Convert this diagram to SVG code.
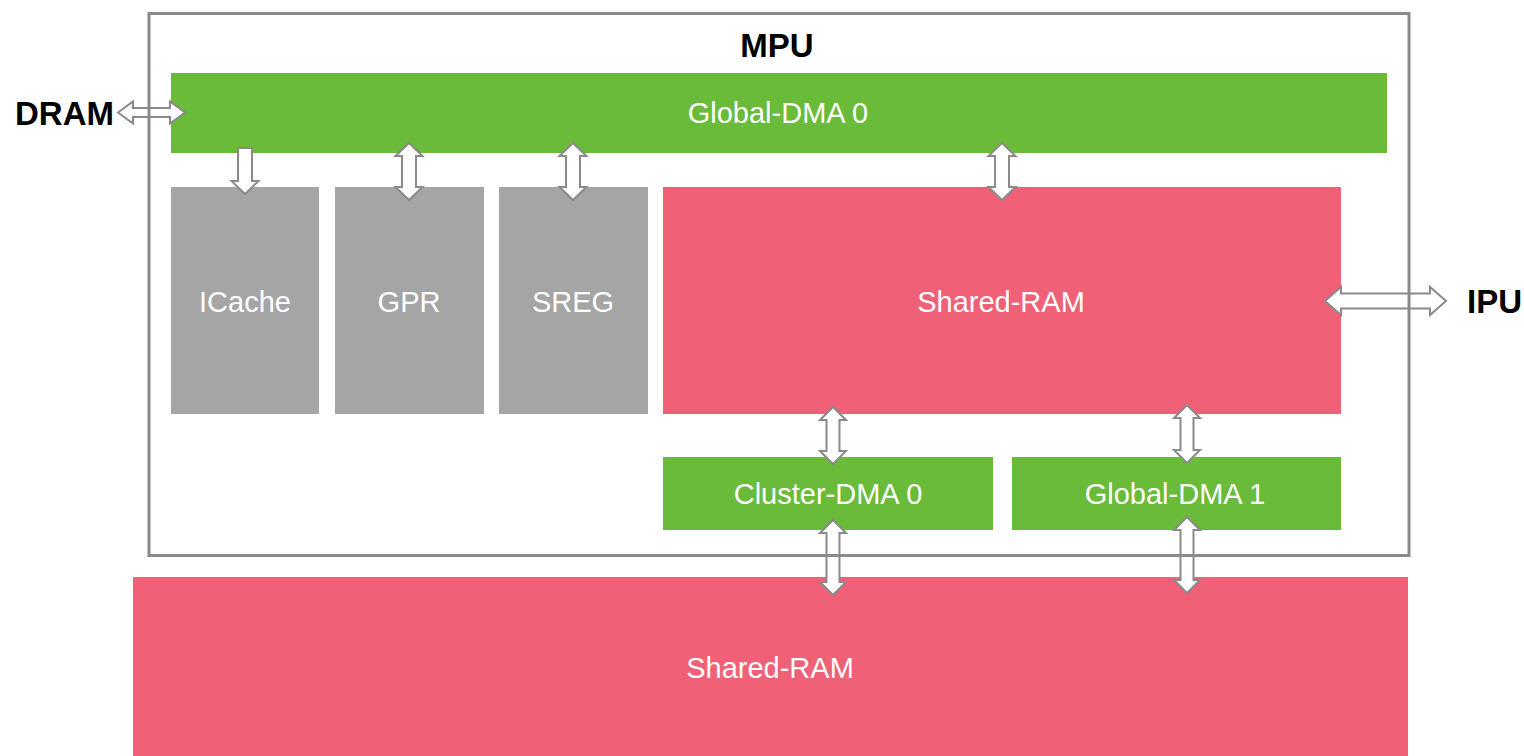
<svg xmlns="http://www.w3.org/2000/svg" width="1524" height="756" viewBox="0 0 1524 756">
  <style>
    .dma { fill: #6abb3a; }
    .ram { fill: #f06077; }
    .reg { fill: #a5a5a5; }
    .lbl { font-family: "Liberation Sans", Arial, Helvetica, sans-serif; font-size: 29px; fill: #ffffff; text-anchor: middle; dominant-baseline: central; }
    .ext { font-family: "Liberation Sans", Arial, Helvetica, sans-serif; font-size: 33px; font-weight: bold; fill: #000000; dominant-baseline: central; }
    .arrow { fill: #ffffff; stroke: #8a8a8a; stroke-width: 2; stroke-linejoin: miter; }
    .frame { fill: none; stroke: #8a8a8a; stroke-width: 3; }
  </style>
  <rect width="1524" height="756" fill="#ffffff"/>

  <g id="shared-ram-ext">
    <rect class="ram" x="133" y="577" width="1275" height="179"/>
    <text class="lbl" x="770" y="668">Shared-RAM</text>
  </g>

  <g id="global-dma-0">
    <rect class="dma" x="171" y="73" width="1216" height="80"/>
    <text class="lbl" x="778" y="113">Global-DMA 0</text>
  </g>
  <g id="icache">
    <rect class="reg" x="171" y="187" width="148" height="227"/>
    <text class="lbl" x="245" y="302">ICache</text>
  </g>
  <g id="gpr">
    <rect class="reg" x="335" y="187" width="149" height="227"/>
    <text class="lbl" x="409" y="302">GPR</text>
  </g>
  <g id="sreg">
    <rect class="reg" x="499" y="187" width="149" height="227"/>
    <text class="lbl" x="573" y="302">SREG</text>
  </g>
  <g id="shared-ram">
    <rect class="ram" x="663" y="187" width="678" height="227"/>
    <text class="lbl" x="1001" y="302">Shared-RAM</text>
  </g>
  <g id="cluster-dma-0">
    <rect class="dma" x="663" y="457" width="330" height="73"/>
    <text class="lbl" x="828" y="494">Cluster-DMA 0</text>
  </g>
  <g id="global-dma-1">
    <rect class="dma" x="1012" y="457" width="329" height="73"/>
    <text class="lbl" x="1175" y="494">Global-DMA 1</text>
  </g>

  <g id="connectors">
    <!-- DRAM <-> Global-DMA 0 -->
    <polygon class="arrow" points="118,112.5 133,101.5 133,108 170,108 170,101.5 185,112.5 170,123.5 170,117 133,117 133,123.5"/>
    <!-- Global-DMA 0 -> ICache -->
    <polygon class="arrow" points="238,148 252,148 252,181 258.5,181 245,194 231.5,181 238,181"/>
    <!-- Global-DMA 0 <-> GPR -->
    <polygon class="arrow" points="409,143 422.5,156 416,156 416,187 422.5,187 409,200 395.5,187 402,187 402,156 395.5,156"/>
    <!-- Global-DMA 0 <-> SREG -->
    <polygon class="arrow" points="573,143 586.5,156 580,156 580,187 586.5,187 573,200 559.5,187 566,187 566,156 559.5,156"/>
    <!-- Global-DMA 0 <-> Shared-RAM -->
    <polygon class="arrow" points="1002,143 1015.5,156 1009,156 1009,187 1015.5,187 1002,200 988.5,187 995,187 995,156 988.5,156"/>
    <!-- Shared-RAM <-> IPU -->
    <polygon class="arrow" points="1325,301 1341,287 1341,293.5 1430,293.5 1430,287 1446,301 1430,315 1430,308.5 1341,308.5 1341,315"/>
    <!-- Shared-RAM <-> Cluster-DMA 0 -->
    <polygon class="arrow" points="833,407 846,420 839.5,420 839.5,451 846,451 833,464 820,451 826.5,451 826.5,420 820,420"/>
    <!-- Shared-RAM <-> Global-DMA 1 -->
    <polygon class="arrow" points="1187,405 1200,418 1193.5,418 1193.5,450 1200,450 1187,463 1174,450 1180.5,450 1180.5,418 1174,418"/>
    <!-- Cluster-DMA 0 <-> external Shared-RAM -->
    <polygon class="arrow" points="833,520 846,533 839.5,533 839.5,582 846,582 833,595 820,582 826.5,582 826.5,533 820,533"/>
    <!-- Global-DMA 1 <-> external Shared-RAM -->
    <polygon class="arrow" points="1187,517 1200,530 1193.5,530 1193.5,580 1200,580 1187,593 1174,580 1180.5,580 1180.5,530 1174,530"/>
  </g>

  <g id="mpu">
    <rect class="frame" x="149" y="13.5" width="1260" height="542"/>
    <text class="ext" x="777" y="45" text-anchor="middle">MPU</text>
  </g>
  <g id="dram">
    <text class="ext" x="15" y="113">DRAM</text>
  </g>
  <g id="ipu">
    <text class="ext" x="1467" y="301">IPU</text>
  </g>
</svg>
